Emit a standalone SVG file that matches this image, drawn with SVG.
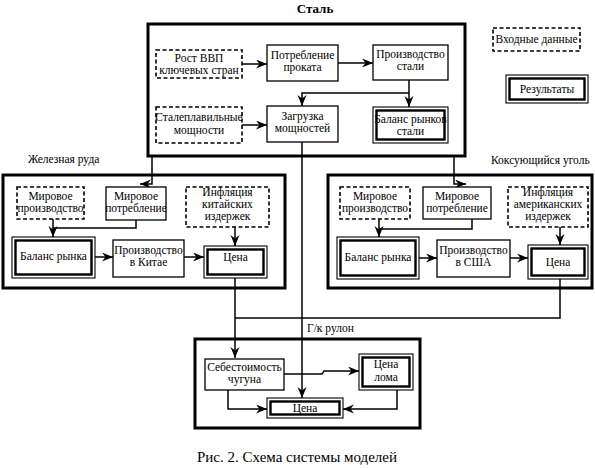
<svg xmlns="http://www.w3.org/2000/svg" width="595" height="468" viewBox="0 0 595 468">
<style>
text{font-family:"Liberation Serif","DejaVu Serif","Noto Serif",serif;font-size:11.5px;fill:#000;text-anchor:middle}
.b{fill:#fff;stroke:#000;stroke-width:1.3}
.d{fill:#fff;stroke:#000;stroke-width:1.6;stroke-dasharray:4 2.5}
.t1{fill:#fff;stroke:#000;stroke-width:1.1}
.t2{fill:none;stroke:#000;stroke-width:2.4}
.f{fill:none;stroke:#000;stroke-width:3}
.c{fill:none;stroke:#000;stroke-width:1.5}
.lbl{text-anchor:start}
</style>
<defs>
<marker id="a" markerUnits="userSpaceOnUse" markerWidth="12" markerHeight="10" refX="11" refY="4.5" orient="auto">
<path d="M0,0 L11,4.5 L0,9 L3.5,4.5 z" fill="#000"/>
</marker>
</defs>
<rect width="595" height="468" fill="#fff"/>
<g font-family="Liberation Serif, DejaVu Serif, serif">
<text x="315" y="13" style="font-weight:bold;font-size:13px">Сталь</text>
<text class="lbl" x="28" y="163">Железная руда</text>
<text class="lbl" x="491" y="164">Коксующийся уголь</text>
<text class="lbl" x="307" y="332">Г/к рулон</text>
<text x="297" y="462" style="font-size:15px">Рис. 2. Схема системы моделей</text>
</g>

<g id="frames">
<rect class="f" x="148" y="24" width="317" height="132"/>
<rect class="f" x="3" y="175" width="282" height="113"/>
<rect class="f" x="328" y="175" width="264" height="113"/>
<rect class="f" x="195" y="339" width="225" height="89"/>
</g>

<g id="connectors">
<path class="c" d="M242,64 H267" marker-end="url(#a)"/>
<path class="c" d="M338,63 H373" marker-end="url(#a)"/>
<path class="c" d="M409,80 V107" marker-end="url(#a)"/>
<path class="c" d="M409,93 H302 V106" marker-end="url(#a)"/>
<path class="c" d="M242,125 H267" marker-end="url(#a)"/>
<path class="c" d="M302,142 V398" marker-end="url(#a)"/>
<path class="c" d="M152,156 V184 H140" marker-end="url(#a)"/>
<path class="c" d="M53,219 V237" marker-end="url(#a)"/>
<path class="c" d="M136,220 V228 H53"/>
<path class="c" d="M235,227 V246" marker-end="url(#a)"/>
<path class="c" d="M95,257 H113" marker-end="url(#a)"/>
<path class="c" d="M184,257 H204" marker-end="url(#a)"/>
<path class="c" d="M235,278 V358" marker-end="url(#a)"/>
<path class="c" d="M454,156 V184 H466" marker-end="url(#a)"/>
<path class="c" d="M379,219 V237" marker-end="url(#a)"/>
<path class="c" d="M472,219 V229 H379"/>
<path class="c" d="M560,227 V245" marker-end="url(#a)"/>
<path class="c" d="M419,258 H437" marker-end="url(#a)"/>
<path class="c" d="M510,258 H528" marker-end="url(#a)"/>
<path class="c" d="M560,279 V318 H235"/>
<path class="c" d="M284,374 H322 L324,371 H359" marker-end="url(#a)"/>
<path class="c" d="M228,390 V409 H267" marker-end="url(#a)"/>
<path class="c" d="M397,390 V409 H343" marker-end="url(#a)"/>
</g>

<g id="gdp"><rect class="d" x="156" y="50" width="86" height="28"/><text x="199" y="62">Рост ВВП</text><text x="199" y="74">ключевых стран</text></g>
<g id="consumption"><rect class="b" x="267" y="45" width="71" height="36"/><text x="302.5" y="59">Потребление</text><text x="302.5" y="71">проката</text></g>
<g id="production"><rect class="b" x="373" y="45" width="75" height="35"/><text x="410.5" y="58">Производство</text><text x="410.5" y="70">стали</text></g>
<g id="capacity"><rect class="d" x="156" y="107" width="86" height="36"/><text x="199" y="121">Сталеплавильные</text><text x="199" y="134">мощности</text></g>
<g id="load"><rect class="b" x="267" y="106" width="71" height="36"/><text x="302.5" y="120">Загрузка</text><text x="302.5" y="132">мощностей</text></g>
<g id="steel-balance"><rect class="t1" x="373" y="107" width="75" height="36"/><rect class="t2" x="376.5" y="110.5" width="68" height="29"/><text x="410.5" y="123">Баланс рынков</text><text x="410.5" y="135">стали</text></g>

<g id="ore-world-prod"><rect class="d" x="17" y="187" width="67" height="32"/><text x="50.5" y="200">Мировое</text><text x="50.5" y="212">производство</text></g>
<g id="ore-world-cons"><rect class="b" x="106" y="187" width="60" height="33"/><text x="136" y="200">Мировое</text><text x="136" y="212">потребление</text></g>
<g id="ore-inflation"><rect class="d" x="186" y="187" width="83" height="40"/><text x="227.5" y="196">Инфляция</text><text x="227.5" y="208">китайских</text><text x="227.5" y="220">издержек</text></g>
<g id="ore-balance"><rect class="t1" x="12" y="237" width="83" height="41"/><rect class="t2" x="15.5" y="240.5" width="76" height="34"/><text x="53.5" y="260">Баланс рынка</text></g>
<g id="ore-china"><rect class="b" x="113" y="240" width="71" height="37"/><text x="148.5" y="254">Производство</text><text x="148.5" y="266">в Китае</text></g>
<g id="ore-price"><rect class="t1" x="204" y="246" width="63" height="32"/><rect class="t2" x="207.5" y="249.5" width="56" height="25"/><text x="235.5" y="261">Цена</text></g>

<g id="coal-world-prod"><rect class="d" x="340" y="187" width="70" height="32"/><text x="375" y="200">Мировое</text><text x="375" y="212">производство</text></g>
<g id="coal-world-cons"><rect class="b" x="423" y="187" width="68" height="32"/><text x="457" y="200">Мировое</text><text x="457" y="212">потребление</text></g>
<g id="coal-inflation"><rect class="d" x="508" y="187" width="80" height="40"/><text x="548" y="196">Инфляция</text><text x="548" y="208">американских</text><text x="548" y="220">издержек</text></g>
<g id="coal-balance"><rect class="t1" x="337" y="237" width="82" height="42"/><rect class="t2" x="340.5" y="240.5" width="75" height="35"/><text x="378" y="261">Баланс рынка</text></g>
<g id="coal-usa"><rect class="b" x="437" y="240" width="73" height="37"/><text x="473.5" y="254">Производство</text><text x="473.5" y="266">в США</text></g>
<g id="coal-price"><rect class="t1" x="528" y="245" width="60" height="34"/><rect class="t2" x="531.5" y="248.5" width="53" height="27"/><text x="558" y="266">Цена</text></g>

<g id="pig-iron-cost"><rect class="b" x="205" y="359" width="79" height="31"/><text x="244.5" y="371">Себестоимость</text><text x="244.5" y="383">чугуна</text></g>
<g id="scrap-price"><rect class="t1" x="359" y="354" width="54" height="36"/><rect class="t2" x="362.5" y="357.5" width="47" height="29"/><text x="386" y="368">Цена</text><text x="386" y="381">лома</text></g>
<g id="hrc-price"><rect class="t1" x="267" y="398" width="76" height="20"/><rect class="t2" x="270.5" y="401.5" width="69" height="13"/><text x="305" y="412">Цена</text></g>

<g id="legend-input"><rect class="d" x="493" y="28" width="87" height="23"/><text x="536.5" y="43">Входные данные</text></g>
<g id="legend-result"><rect class="t1" x="506" y="75" width="82" height="28"/><rect class="t2" x="509.5" y="78.5" width="75" height="21"/><text x="547" y="93">Результаты</text></g>
</svg>
